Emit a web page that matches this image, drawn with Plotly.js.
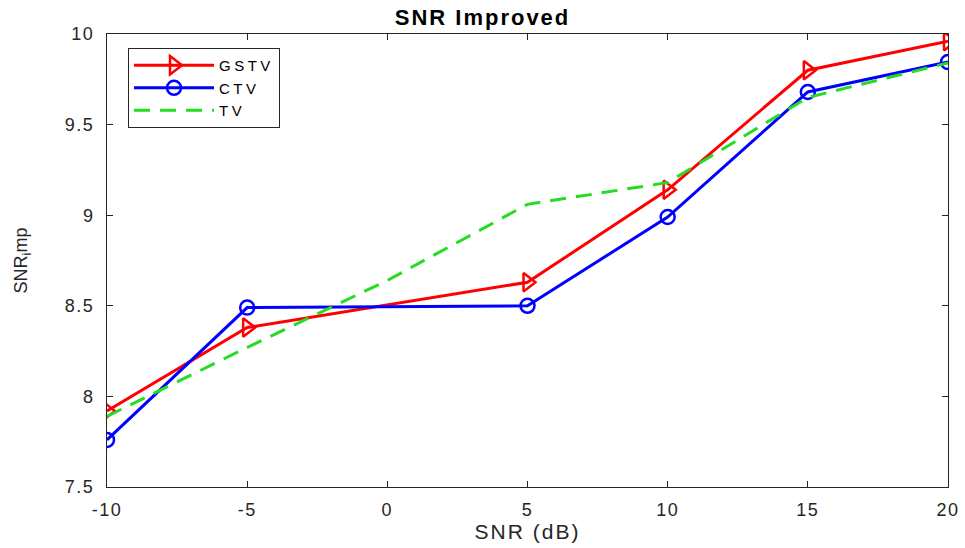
<!DOCTYPE html>
<html>
<head>
<meta charset="utf-8">
<script src="https://cdn.plot.ly/plotly-3.0.1.min.js"></script>
<style>
html,body{margin:0;padding:0;background:#fff;}
#chart{width:965px;height:548px;}
.xtick text, .ytick text {letter-spacing:1.5px;}
.gtitle {letter-spacing:2px;}
.xtitle {letter-spacing:2px;}
.legendtext {letter-spacing:3.5px;}
</style>
</head>
<body>
<div id="chart"></div>
<script>
const snr = [-10, -5, 5, 10, 15, 20];
const gstv = [7.92, 8.38, 8.63, 9.14, 9.80, 9.96];
const ctv = [7.76, 8.49, 8.50, 8.99, 9.68, 9.845];
const snrTV = [-10, -5, 0, 5, 10, 15, 20];
const tv = [7.89, 8.27, 8.64, 9.06, 9.18, 9.65, 9.84];
const xTicks = [-10, -5, 0, 5, 10, 15, 20];
const yTicks = [7.5, 8, 8.5, 9, 9.5, 10];
const yTickText = ['7.5', '8', '8.5', '9', '9.5', '10'];

const font = 'Liberation Sans, Arial, Helvetica, sans-serif';
const data = [
  {x: snr, y: gstv, name: 'GSTV', type: 'scatter', mode: 'lines+markers',
   line: {color: '#ff0000', width: 3},
   marker: {symbol: 'triangle-right-open', size: 16, color: '#ff0000', line: {width: 2.5, color: '#ff0000'}}},
  {x: snr, y: ctv, name: 'CTV', type: 'scatter', mode: 'lines+markers',
   line: {color: '#0000ff', width: 3},
   marker: {symbol: 'circle-open', size: 14, color: '#0000ff', line: {width: 2.5, color: '#0000ff'}}},
  {x: snrTV, y: tv, name: 'TV', type: 'scatter', mode: 'lines',
   line: {color: '#22dd22', width: 3, dash: '16px,10px'}}
];

const layout = {
  width: 965, height: 548,
  margin: {l: 107, r: 17, t: 34, b: 61},
  paper_bgcolor: '#ffffff', plot_bgcolor: '#ffffff',
  font: {family: font, color: '#262626', size: 17},
  title: {text: '<b>SNR Improved</b>', x: 0.5, xanchor: 'center', y: 0.969, yanchor: 'middle',
          font: {family: font, size: 22, color: '#000000'}},
  showlegend: true,
  legend: {x: 0.025, y: 0.969, xanchor: 'left', yanchor: 'top',
           bordercolor: '#262626', borderwidth: 1, bgcolor: '#ffffff',
           font: {family: font, size: 15, color: '#000000'}, tracegroupgap: 0, itemwidth: 80},
  xaxis: {
    range: [-10, 20], tickvals: xTicks, ticktext: xTicks.map(String),
    ticks: 'inside', ticklen: 6, tickcolor: '#262626', tickwidth: 1,
    showline: true, linecolor: '#262626', linewidth: 1, mirror: 'ticks',
    showgrid: false, zeroline: false, ticklabelstandoff: 6,
    tickfont: {family: font, size: 18, color: '#262626'},
    title: {text: 'SNR (dB)', font: {family: font, size: 21, color: '#262626'}, standoff: 3}
  },
  yaxis: {
    range: [7.5, 10], tickvals: yTicks, ticktext: yTickText,
    ticks: 'inside', ticklen: 6, tickcolor: '#262626', tickwidth: 1,
    showline: true, linecolor: '#262626', linewidth: 1, mirror: 'ticks',
    showgrid: false, zeroline: false, ticklabelstandoff: 8,
    tickfont: {family: font, size: 18, color: '#262626'},
    title: {text: 'SNR<sub>i</sub>mp', font: {family: font, size: 18, color: '#262626'}, standoff: 32}
  }
};

Plotly.newPlot('chart', data, layout, {displayModeBar: false, staticPlot: true});
</script>
</body>
</html>
